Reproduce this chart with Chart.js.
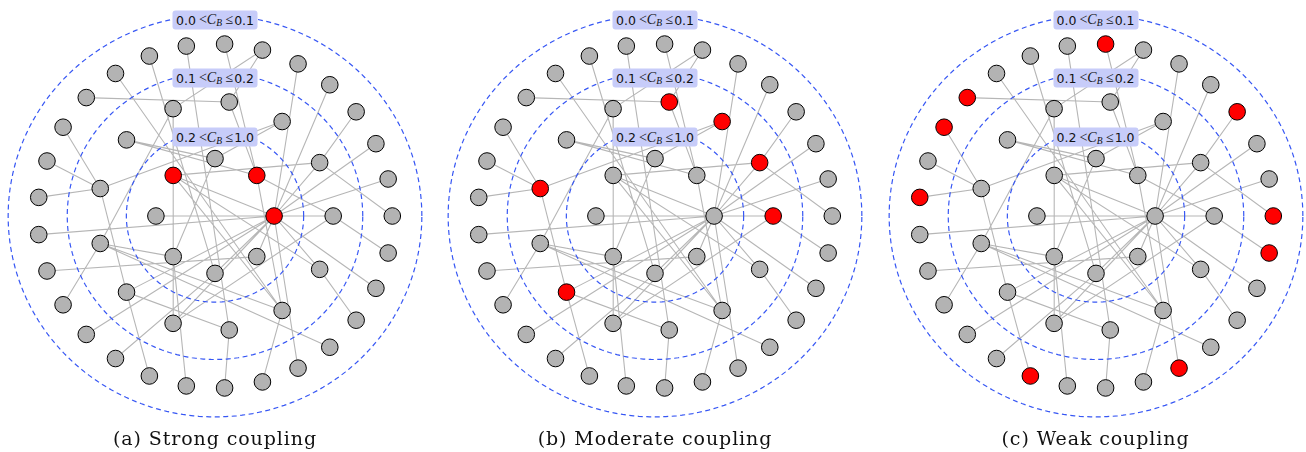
<!DOCTYPE html>
<html>
<head>
<meta charset="utf-8">
<script src="https://cdn.jsdelivr.net/npm/chart.js@4.4.1/dist/chart.umd.min.js"></script>
<style>
  html,body{margin:0;padding:0;background:#fff;}
  body{width:1306px;height:452px;position:relative;overflow:hidden;}
  .panel{position:absolute;top:0;}
  .band{position:absolute;transform:translate(-50%,-50%);width:85px;height:19px;background:#c7ccf9;border-radius:3px;
        display:flex;align-items:center;justify-content:center;white-space:nowrap;color:#111;}
  .band .n{font-family:"DejaVu Sans",sans-serif;font-size:12.5px;}
  .band .m{font-family:"Liberation Serif",serif;font-size:14px;margin:0 1px 0 3px;}
  .band .m i{font-style:italic;}
  .band .m sub{font-style:italic;font-size:9.5px;vertical-align:-2px;line-height:0;}
  .cap{position:absolute;transform:translate(-50%,-50%);font-family:"DejaVu Serif",serif;font-size:19px;letter-spacing:0.9px;color:#111;white-space:nowrap;}
</style>
</head>
<body>
<script>
// ---------------- data ----------------
// shells, from the innermost (highest betweenness) to the outermost
const shellSizes = [8, 13, 29];          // nodes per shell: I, M, O
const shellPrefixes = ['I', 'M', 'O'];
const bandLabels = [['0.2', '1.0'], ['0.1', '0.2'], ['0.0', '0.1']];   // C_B ranges, inner to outer

// network edges (same graph in all three panels)
const edges = [
  ['O0','M12'],['O1','M0'],['O2','I0'],['O3','M1'],['O4','M6'],['O5','I0'],['O6','M2'],['O7','M3'],
  ['O8','I3'],['O9','M5'],['O10','I2'],['O11','I0'],['O12','M6'],['O13','I1'],['O14','I0'],['O15','M7'],
  ['O16','M7'],['O17','M7'],['O18','M10'],['O19','M2'],['O20','I2'],['O21','M3'],['O22','I7'],['O23','M9'],
  ['O23','M10'],['O24','I0'],['O25','I0'],['O26','M12'],['O27','I0'],['O28','I0'],
  ['M0','I0'],['M0','I4'],['I4','I0'],['M0','M4'],['M1','I0'],['M12','I0'],['M12','I5'],['M11','M7'],
  ['M11','I6'],['M10','I7'],['M9','I5'],['M9','M6'],['I5','I3'],['I5','I0'],['I5','M1'],['I5','M2'],
  ['M8','I6'],['M8','I7'],['I6','I3'],['I0','I2'],['I0','M4'],['I0','M5'],['I0','I1'],['M5','M3'],
  ['M6','I3'],['I7','M2'],['M4','I3'],['M6','M2'],['M5','M7'],['I7','M0']
];

// highlighted (red) nodes per panel
const redStrong   = ['I0','I5','I7'];
const redModerate = ['M0','M5','M7','M10','M11','M12'];
const redWeak     = ['O0','O1','O5','O9','O15','O17','O18','O22','O26'];
const highlighted = [redStrong, redModerate, redWeak];

const captions = ['(a) Strong coupling', '(b) Moderate coupling', '(c) Weak coupling'];

// ---------------- layout / style ----------------
const panelCenters = [215, 655, 1095.5];
const canvasW = 434, canvasH = 430, centerY = 216;
const pxPerUnitX = 177.3, pxPerUnitY = 172.2;
const labelOffsets = [0.044, 0.03, 0.026];

function nodePos(name) {
  const s = shellPrefixes.indexOf(name[0]);
  const k = parseInt(name.slice(1), 10);
  const r = (s + 1) / 3;
  const th = 2 * Math.PI * k / shellSizes[s];
  return {x: r * Math.cos(th), y: -r * Math.sin(th)};
}
const allNodes = [];
shellSizes.forEach((n, s) => { for (let k = 0; k < n; k++) allNodes.push(shellPrefixes[s] + k); });

function ringPoints(R) {
  const pts = [];
  for (let i = 0; i <= 240; i++) {
    const t = 2 * Math.PI * i / 240;
    pts.push({x: R * Math.cos(t), y: R * Math.sin(t)});
  }
  return pts;
}

const xHalf = (canvasW / 2) / pxPerUnitX;
const yMax = centerY / pxPerUnitY;
const yMin = -(canvasH - centerY) / pxPerUnitY;

panelCenters.forEach((cx, p) => {
  const left = cx - canvasW / 2;
  const div = document.createElement('div');
  div.className = 'panel';
  div.style.left = left + 'px';
  div.style.width = canvasW + 'px';
  div.style.height = canvasH + 'px';
  const cv = document.createElement('canvas');
  cv.width = canvasW; cv.height = canvasH;
  cv.style.width = canvasW + 'px'; cv.style.height = canvasH + 'px';
  div.appendChild(cv);
  document.body.appendChild(div);

  const edgeData = [];
  edges.forEach(([a, b]) => {
    const pa = nodePos(a), pb = nodePos(b);
    edgeData.push(pa, pb, {x: pb.x, y: null});
  });

  const red = highlighted[p];
  const nodeData = allNodes.map(nodePos);
  const nodeColors = allNodes.map(n => red.includes(n) ? '#ff0000' : '#b3b3b3');

  const datasets = [
    {data: nodeData, pointRadius: 8.3, pointHoverRadius: 8.3, pointBackgroundColor: nodeColors,
     pointBorderColor: '#000', pointBorderWidth: 1, showLine: false, order: 0, clip: false},
    {data: edgeData, showLine: true, borderColor: '#b6b6b6', borderWidth: 1.1, pointRadius: 0,
     spanGaps: false, tension: 0, order: 3, clip: false}
  ];
  [0, 1, 2].forEach(s => {
    datasets.push({data: ringPoints((s + 1.5) / 3), showLine: true, borderColor: '#3757f4',
      borderWidth: 1.2, borderDash: [5, 3.5], pointRadius: 0, tension: 0, order: 2, clip: false});
  });

  const chart = new Chart(cv, {
    type: 'scatter',
    data: {datasets},
    options: {
      responsive: false, animation: false, events: [], devicePixelRatio: 1,
      layout: {padding: 0, autoPadding: false},
      plugins: {legend: {display: false}, tooltip: {enabled: false}},
      scales: {
        x: {type: 'linear', min: -xHalf, max: xHalf, display: false},
        y: {type: 'linear', min: yMin, max: yMax, display: false}
      }
    }
  });

  // band labels, placed through the chart's scales
  [0, 1, 2].forEach(s => {
    const R = (s + 1.5) / 3;
    const lab = document.createElement('div');
    lab.className = 'band';
    lab.style.left = (left + chart.scales.x.getPixelForValue(0)) + 'px';
    lab.style.top = chart.scales.y.getPixelForValue(R - labelOffsets[s]) + 'px';
    const [lo, hi] = bandLabels[s];
    lab.innerHTML = '<span class="n">' + lo + '</span><span class="m">&lt;<i>C</i><sub>B</sub> \u2264</span><span class="n">' + hi + '</span>';
    document.body.appendChild(lab);
  });

  const cap = document.createElement('div');
  cap.className = 'cap';
  cap.style.left = (left + chart.scales.x.getPixelForValue(0)) + 'px';
  cap.style.top = '438px';
  cap.textContent = captions[p];
  document.body.appendChild(cap);
});
</script>
</body>
</html>
